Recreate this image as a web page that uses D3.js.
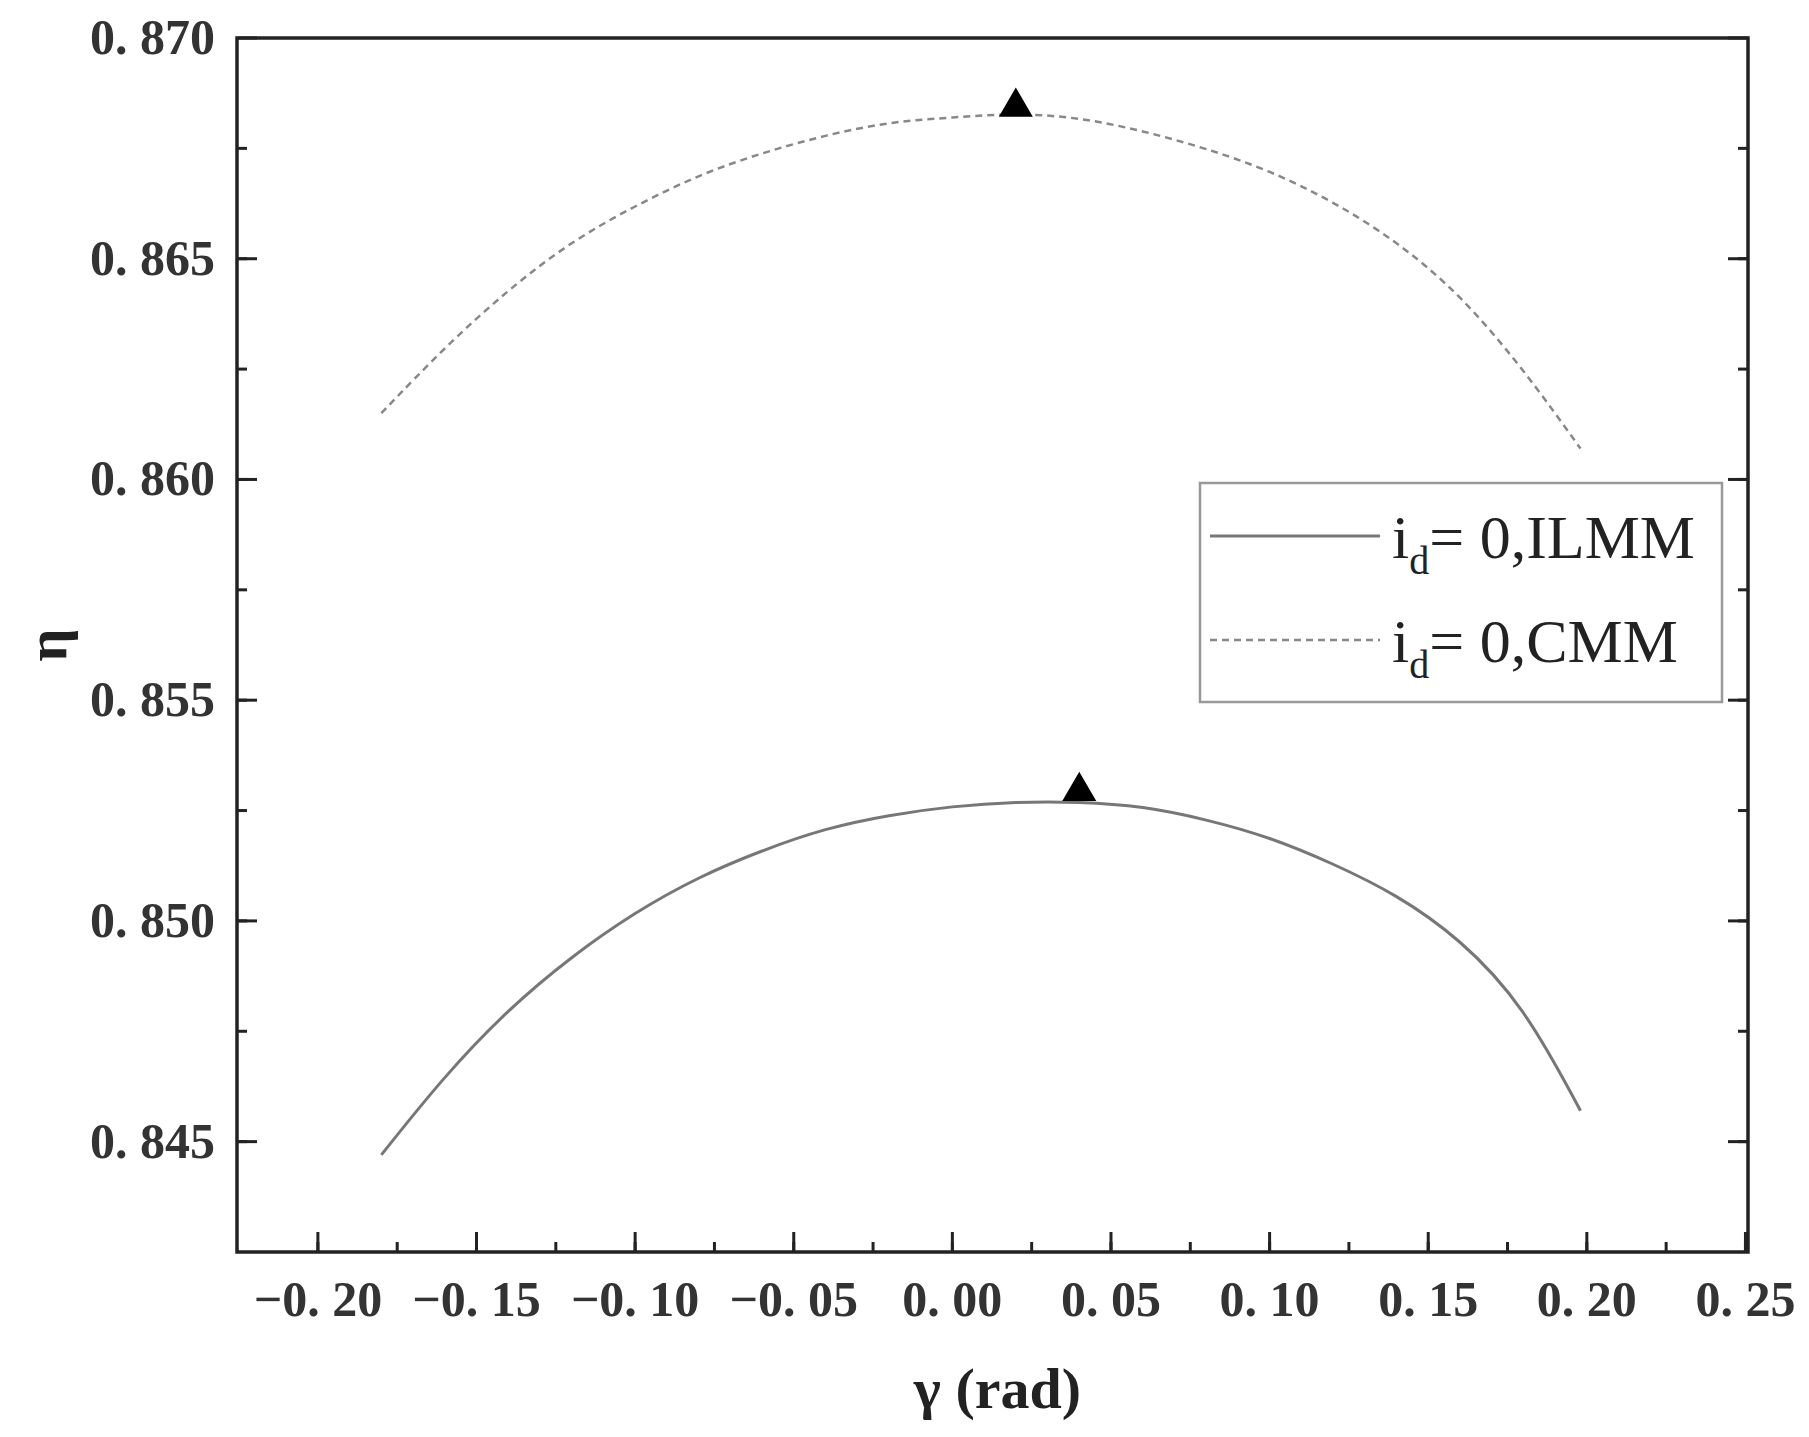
<!DOCTYPE html>
<html><head><meta charset="utf-8">
<script src="https://cdn.jsdelivr.net/npm/d3@7"></script>
<style>body{margin:0;background:#fff}text{font-family:"Liberation Serif","DejaVu Serif",serif}</style>
</head><body>
<svg id="c" width="1809" height="1437"></svg>
<script>
var gammaVals = [-0.18,-0.16,-0.14,-0.12,-0.10,-0.08,-0.06,-0.04,-0.02,0,0.02,0.04,0.06,0.08,0.10,0.12,0.14,0.16,0.18,0.198]
var ilmmVals = [0.8447,0.8465,0.8480,0.8492,0.8502,0.8510,0.8516,0.8521,0.8524,0.8526,0.8527,0.8527,0.8526,0.8523,0.8519,0.8513,0.8506,0.8496,0.8481,0.8457]
var cmmVals = [0.8615,0.8630,0.8643,0.8654,0.8662,0.8669,0.8674,0.8678,0.8681,0.8682,0.8683,0.8682,0.8679,0.8675,0.8670,0.8663,0.8654,0.8642,0.8625,0.8607]
var peaks = [{x:0.02, y:0.8683}, {x:0.04, y:0.8528}]
var xTicks = [-0.20,-0.15,-0.10,-0.05,0,0.05,0.10,0.15,0.20,0.25]
var yTicks = [0.845,0.850,0.855,0.860,0.865,0.870]

var svg = d3.select('#c')
  , L = 237, R = 1748, T = 38, B = 1252
  , x = d3.scaleLinear().domain([-0.2255, 0.2508]).range([L, R])
  , y = d3.scaleLinear().domain([0.8425, 0.870]).range([B, T])
  , fmt = function (d) { return d3.format('.2f')(d).replace('.', '. ').replace('-', '\u2212') }
  , fmtY = function (d) { return d3.format('.3f')(d).replace('.', '. ') }

// minor ticks
var xMinor = d3.range(-0.225, 0.2501, 0.025), yMinor = d3.range(0.8425, 0.87001, 0.0025)
function tick(g, x1, y1, x2, y2) { g.append('line').attr('x1', x1).attr('y1', y1).attr('x2', x2).attr('y2', y2).attr('stroke', '#222').attr('stroke-width', 3) }
var tg = svg.append('g')
xMinor.forEach(function (d) { if (x(d) > L + 2 && x(d) < R - 2) tick(tg, x(d), B, x(d), B - 10) })
yMinor.forEach(function (d) { if (y(d) > T + 2 && y(d) < B - 2) { tick(tg, L, y(d), L + 10, y(d)); tick(tg, R, y(d), R - 10, y(d)) } })
xTicks.forEach(function (d) { tick(tg, x(d), B, x(d), B - 20) })
yTicks.forEach(function (d) { tick(tg, L, y(d), L + 20, y(d)); tick(tg, R, y(d), R - 20, y(d)) })

svg.append('rect').attr('x', L).attr('y', T).attr('width', R - L).attr('height', B - T)
  .attr('fill', 'none').attr('stroke', '#222').attr('stroke-width', 3.5)

svg.selectAll('.xl').data(xTicks).enter().append('text')
  .attr('x', function (d) { return x(d) }).attr('y', B + 64).attr('text-anchor', 'middle')
  .attr('font-size', 50).attr('font-weight', 'bold').attr('fill', '#333').text(fmt)
svg.selectAll('.yl').data(yTicks).enter().append('text')
  .attr('x', L - 22).attr('y', function (d) { return y(d) + 16 }).attr('text-anchor', 'end')
  .attr('font-size', 50).attr('font-weight', 'bold').attr('fill', '#333').text(fmtY)

svg.append('text').attr('x', (L + R) / 2 + 5).attr('y', 1408).attr('text-anchor', 'middle')
  .attr('font-size', 58).attr('font-weight', 'bold').attr('fill', '#222').text('\u03b3 (rad)')
svg.append('text').attr('transform', 'translate(66,' + ((T + B) / 2) + ') rotate(-90)')
  .attr('text-anchor', 'middle').attr('font-size', 58).attr('font-weight', 'bold').attr('fill', '#222').text('\u03b7')

var line = d3.line().curve(d3.curveBasis).x(function (d) { return x(d[0]) }).y(function (d) { return y(d[1]) })
svg.append('path').attr('d', line(d3.zip(gammaVals, ilmmVals))).attr('fill', 'none').attr('stroke', '#777').attr('stroke-width', 3)
svg.append('path').attr('d', line(d3.zip(gammaVals, cmmVals))).attr('fill', 'none').attr('stroke', '#888').attr('stroke-width', 2.5).attr('stroke-dasharray', '7,5')

svg.selectAll('.pk').data(peaks).enter().append('path')
  .attr('transform', function (d) { return 'translate(' + x(d.x) + ',' + (y(d.y) - 6) + ')' })
  .attr('d', d3.symbol().type(d3.symbolTriangle).size(500)).attr('fill', '#000')

// legend
var lg = svg.append('g')
lg.append('rect').attr('x', 1200).attr('y', 483).attr('width', 522).attr('height', 219).attr('fill', '#fff').attr('stroke', '#999').attr('stroke-width', 2.5)
lg.append('line').attr('x1', 1210).attr('x2', 1380).attr('y1', 536).attr('y2', 536).attr('stroke', '#777').attr('stroke-width', 3)
lg.append('line').attr('x1', 1210).attr('x2', 1380).attr('y1', 640).attr('y2', 640).attr('stroke', '#888').attr('stroke-width', 2.5).attr('stroke-dasharray', '7,5')
;[['ILMM', 558], ['CMM', 662]].forEach(function (e) {
  var t = lg.append('text').attr('x', 1392).attr('y', e[1]).attr('font-size', 62).attr('fill', '#222')
  t.append('tspan').text('i')
  t.append('tspan').attr('font-size', 40).attr('dy', 16).text('d')
  t.append('tspan').attr('dy', -16).text('= 0,' + e[0])
})
</script>
</body></html>
